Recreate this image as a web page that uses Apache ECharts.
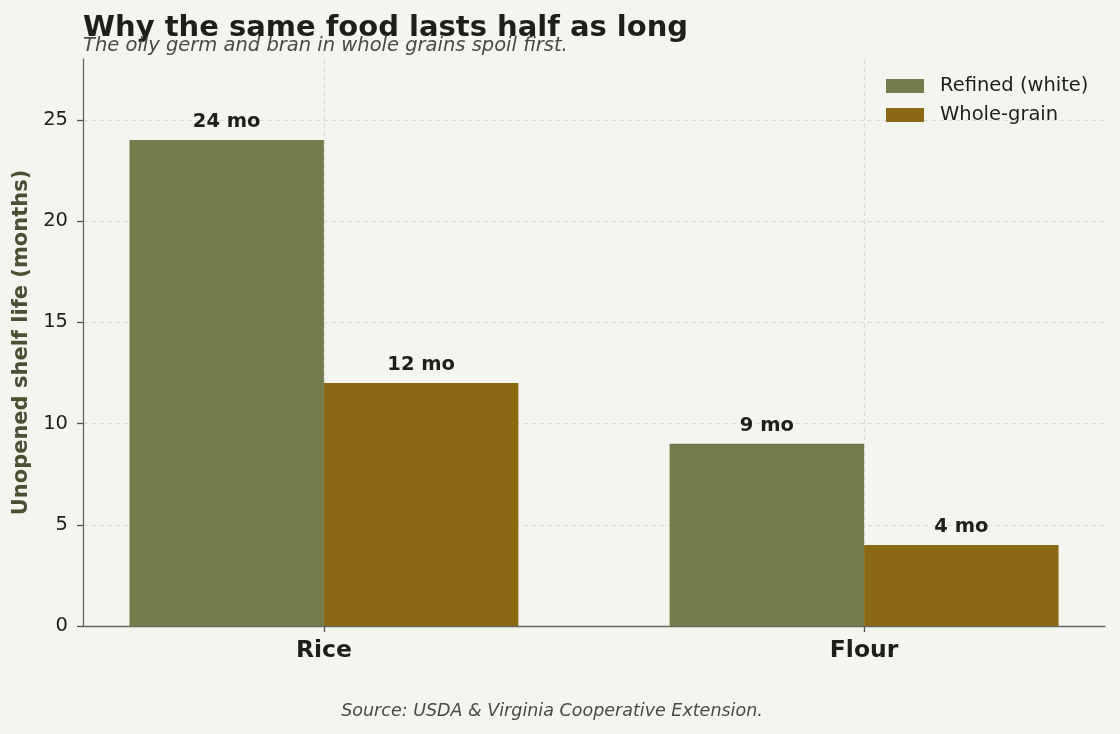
<!DOCTYPE html>
<html>
<head>
<meta charset="utf-8">
<script src="https://cdn.jsdelivr.net/npm/echarts@6/dist/echarts.min.js"></script>
<style>
html,body{margin:0;padding:0;background:#f4f5ef;}
#chart{width:1120px;height:734px;}
</style>
</head>
<body>
<div id="chart"></div>
<script>
const categories = ['Rice', 'Flour'];
const refined = [24, 9];
const wholeGrain = [12, 4];
const seriesNames = ['Refined (white)', 'Whole-grain'];
const yTicks = [0, 5, 10, 15, 20, 25];
const catTicks = [0, 1];

const FONT = 'DejaVu Sans';
const OFFSET = 0.18;

const chart = echarts.init(document.getElementById('chart'));

const labelStyle = {
  show: true,
  position: 'top',
  distance: 8,
  fontFamily: FONT,
  fontWeight: 'bold',
  fontSize: 19.5,
  color: '#1e1e1a',
  formatter: p => p.value[1] + ' mo'
};

const gridLine = { show: true, lineStyle: { color: '#dcddd6', type: [5, 3], width: 1.2 } };

chart.setOption({
  backgroundColor: '#f4f5ef',
  animation: false,
  title: [
    {
      text: 'Why the same food lasts half as long',
      left: 83, top: 14, padding: 0,
      textStyle: { fontFamily: FONT, fontWeight: 'bold', fontSize: 29, color: '#1e1e1a' }
    },
    {
      text: 'The oily germ and bran in whole grains spoil first.',
      left: 83, top: 36, padding: 0,
      textStyle: { fontFamily: FONT, fontStyle: 'italic', fontWeight: 'normal', fontSize: 19.5, color: '#4a4a45' }
    },
    {
      text: 'Source: USDA & Virginia Cooperative Extension.',
      left: 552, top: 702, textAlign: 'center', padding: 0,
      textStyle: { fontFamily: FONT, fontStyle: 'italic', fontWeight: 'normal', fontSize: 17.5, color: '#4a4a45' }
    }
  ],
  legend: {
    orient: 'vertical',
    left: 886, top: 76, padding: 0,
    itemWidth: 38, itemHeight: 14,
    itemGap: 9,
    icon: 'rect',
    textStyle: { fontFamily: FONT, fontSize: 19.5, color: '#1e1e1a', padding: [0, 0, 0, 11] },
    data: seriesNames
  },
  grid: { left: 83, right: 15, top: 59, bottom: 108, containLabel: false, outerBoundsMode: 'none' },
  xAxis: {
    type: 'value',
    min: -0.446, max: 1.446,
    axisLine: { show: true, lineStyle: { color: '#666666', width: 1.3 } },
    axisTick: { show: true, customValues: catTicks, length: 6, lineStyle: { color: '#555555', width: 1.3 } },
    axisLabel: {
      customValues: catTicks,
      margin: 13,
      formatter: v => categories[Math.round(v)] || '',
      fontFamily: FONT, fontWeight: 'bold', fontSize: 23.5, color: '#1e1e1a'
    },
    splitLine: gridLine
  },
  yAxis: {
    type: 'value',
    min: 0, max: 28,
    name: 'Unopened shelf life (months)',
    nameLocation: 'middle',
    nameGap: 51,
    nameTextStyle: { fontFamily: FONT, fontWeight: 'bold', fontSize: 21, color: '#4b5034' },
    axisLine: { show: true, onZero: false, lineStyle: { color: '#666666', width: 1.3 } },
    axisTick: { show: true, customValues: yTicks, length: 6, lineStyle: { color: '#555555', width: 1.3 } },
    axisLabel: {
      customValues: yTicks,
      margin: 15,
      fontFamily: FONT, fontSize: 19.5, color: '#1e1e1a'
    },
    splitLine: gridLine
  },
  series: [
    {
      name: seriesNames[0],
      type: 'bar',
      barWidth: '100%',
      barGap: '-100%',
      itemStyle: { color: '#747c4c' },
      label: labelStyle,
      data: categories.map((c, i) => [i - OFFSET, refined[i]])
    },
    {
      name: seriesNames[1],
      type: 'bar',
      barWidth: '100%',
      barGap: '-100%',
      itemStyle: { color: '#8b6914' },
      label: labelStyle,
      data: categories.map((c, i) => [i + OFFSET, wholeGrain[i]])
    }
  ]
});
</script>
</body>
</html>
